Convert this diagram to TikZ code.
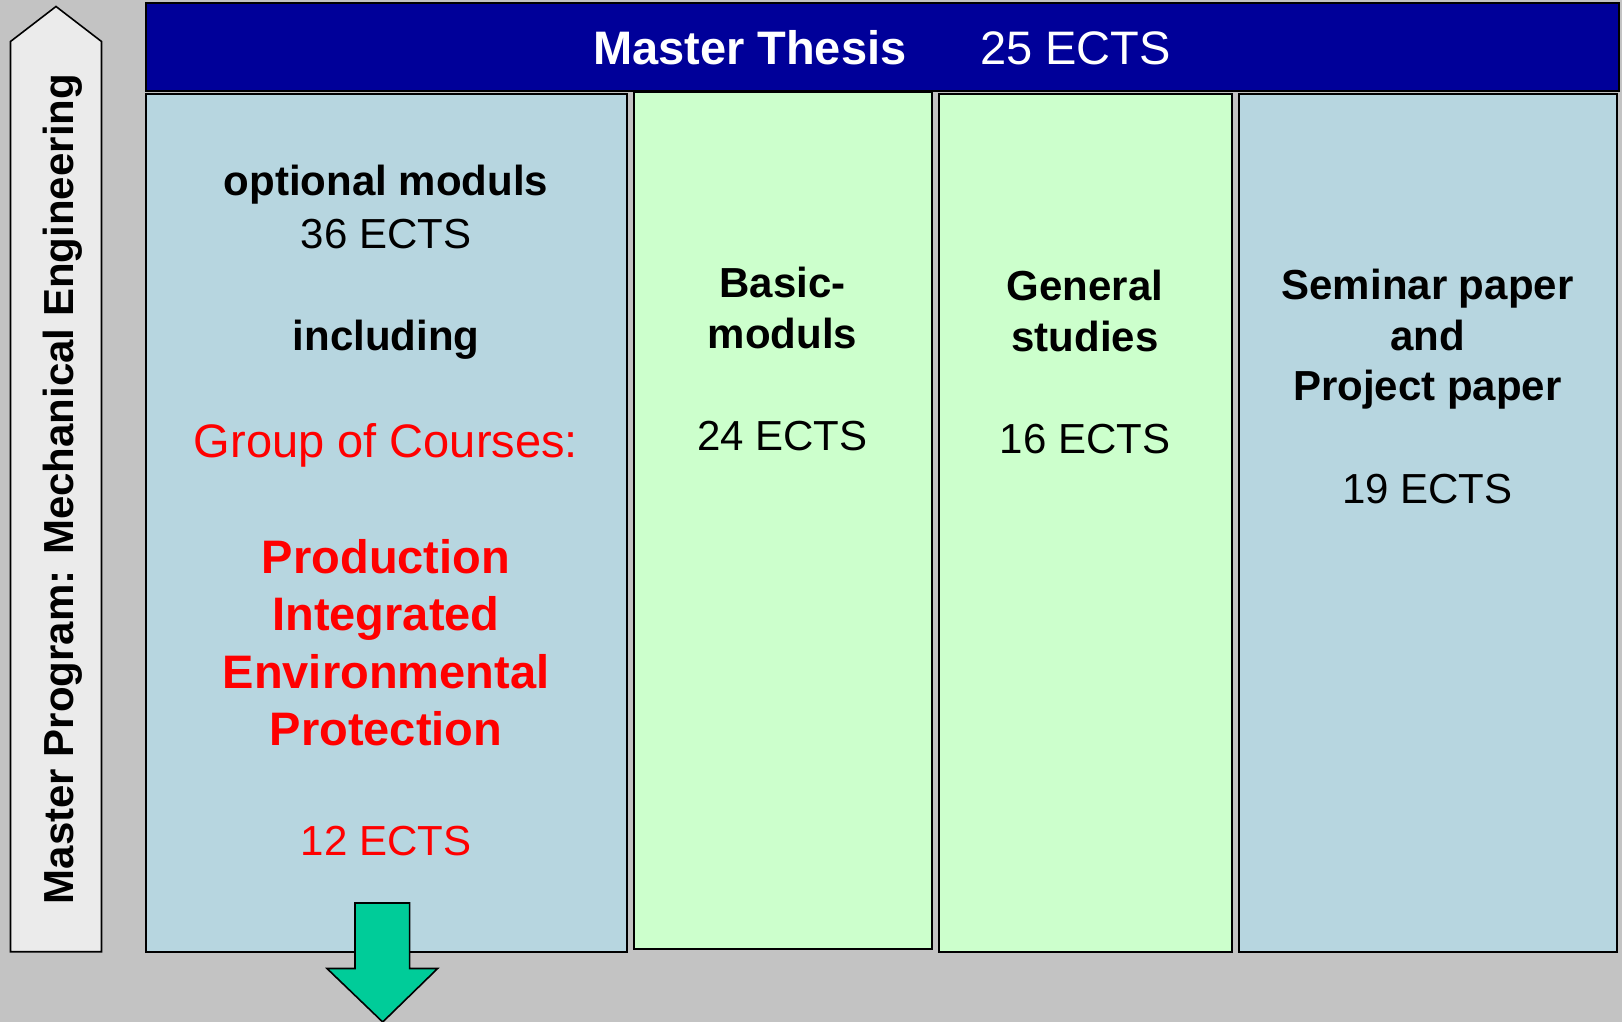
\documentclass[tikz,border=0pt]{standalone}
\usepackage{fontspec}
\setmainfont{Liberation Sans}
\definecolor{bgray}{RGB}{195,195,195}
\definecolor{navy}{RGB}{0,0,153}
\definecolor{lblue}{RGB}{183,214,224}
\definecolor{lgreen}{RGB}{204,255,204}
\definecolor{arrowgray}{RGB}{235,235,235}
\definecolor{teal}{RGB}{0,204,153}
\newcommand\fsMid{\fontsize{42}{50}\selectfont}
\newcommand\fsBig{\fontsize{47}{57}\selectfont}
\tikzset{
  col/.style={draw=black, line width=2pt, inner sep=0pt, outer sep=0pt, anchor=north west},
  lbl/.style={anchor=base, inner sep=0pt, outer sep=0pt},
  bmid/.style={lbl, font=\fsMid\bfseries},
  rmid/.style={lbl, font=\fsMid},
  bbig/.style={lbl, font=\fsBig\bfseries},
  rbig/.style={lbl, font=\fsBig},
  shapeline/.style={draw=black, line width=1.6pt, line join=miter}
}
\begin{document}
\begin{tikzpicture}[x=1pt,y=-1pt]
\useasboundingbox (0,0) rectangle (1622,1022);
\fill[bgray] (0,0) rectangle (1622,1022);

% left pentagon arrow
\filldraw[shapeline, fill=arrowgray] (10.5,951.7) -- (101.5,951.7) -- (101.5,41.5) -- (56,6.5) -- (10.5,41.5) -- cycle;
\node[lbl, font=\fsMid\bfseries, rotate=90] (prog) at (73,489) {Master Program: Mechanical Engineering};

% banner
\node[col, fill=navy, minimum width=1473, minimum height=88] (thesis) at (145.9,3) {};
\node[bbig, anchor=base west, text=white] (thesisT) at (593,65) {Master Thesis};
\node[rbig, anchor=base west, text=white] (thesisE) at (980,65) {25 ECTS};

% columns
\node[col, fill=lblue, minimum width=481, minimum height=857.6] (b1) at (145.9,94.1) {};
\node[col, fill=lgreen, minimum width=298, minimum height=857] (b2) at (633.5,92) {};
\node[col, fill=lgreen, minimum width=293, minimum height=858] (b3) at (938.5,94) {};
\node[col, fill=lblue, minimum width=378.5, minimum height=858] (b4) at (1238.5,94) {};

% column 1 text
\node[bmid] (t1a) at (386,195) {optional moduls};
\node[rmid] (t1b) at (386,248) {36 ECTS};
\node[bmid] (t1c) at (386,350) {including};
\node[rbig, text=red] (t1d) at (386,457) {Group of Courses:};
\node[bbig, text=red] (t1e) at (386,573) {Production};
\node[bbig, text=red] (t1f) at (386,630.5) {Integrated};
\node[bbig, text=red] (t1g) at (386,688) {Environmental};
\node[bbig, text=red] (t1h) at (386,745.5) {Protection};
\node[rmid, text=red] (t1i) at (386,855) {12 ECTS};

% column 2 text
\node[bmid] (t2a) at (782.5,297) {Basic-};
\node[bmid] (t2b) at (782.5,348) {moduls};
\node[rmid] (t2c) at (782.5,450) {24 ECTS};

% column 3 text
\node[bmid] (t3a) at (1085,300) {General};
\node[bmid] (t3b) at (1085,351) {studies};
\node[rmid] (t3c) at (1085,453) {16 ECTS};

% column 4 text
\node[bmid] (t4a) at (1427.5,299) {Seminar paper};
\node[bmid] (t4b) at (1427.5,350) {and};
\node[bmid] (t4c) at (1427.5,400) {Project paper};
\node[rmid] (t4d) at (1427.5,503) {19 ECTS};

% green down arrow
\filldraw[shapeline, fill=teal] (355,903) -- (409.6,903) -- (409.6,968.5) -- (437.6,968.5) -- (382.7,1022) -- (327,968.5) -- (355,968.5) -- cycle;
\end{tikzpicture}
\end{document}
